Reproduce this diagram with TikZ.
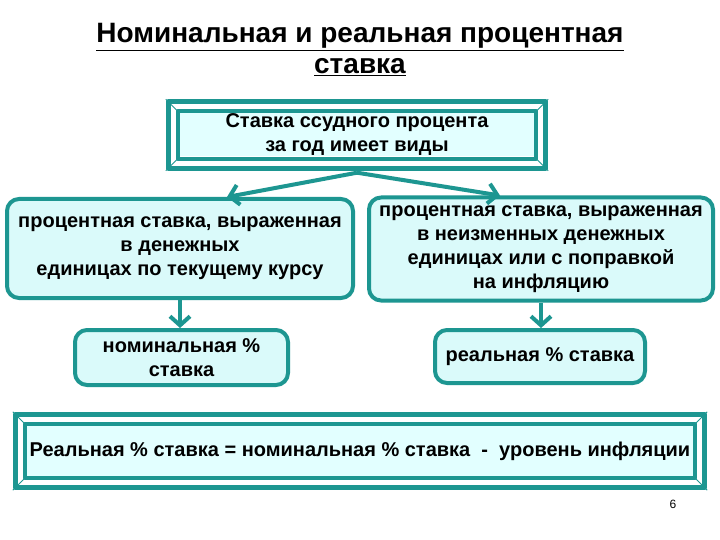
\documentclass[tikz,border=0pt]{standalone}
\usepackage{fontspec}
\setmainfont{Liberation Sans}
\usetikzlibrary{arrows.meta,backgrounds}
\definecolor{boxcolor}{RGB}{29,150,145}
\definecolor{bandcolor}{RGB}{140,220,214}
\definecolor{fillcolor}{RGB}{226,255,255}
\definecolor{roundfill}{RGB}{218,250,250}
\begin{document}
\begin{tikzpicture}[x=1pt, y=-1pt, font=\bfseries\fontsize{20}{24}\selectfont, line join=round, >={Straight Barb[length=9pt,width=20pt]},
	framebox/.style={fill=fillcolor, inner sep=0pt, align=center},
	roundbox/.style={draw=boxcolor, line width=4pt, rounded corners=12pt, fill=roundfill, inner sep=0pt, align=center},
	link/.style={->, draw=boxcolor, line width=4pt}]
			\useasboundingbox[fill=white] (0,0) rectangle (720,540);
			% title and page number
			\node[font=\bfseries\fontsize{28}{31}\selectfont, align=center] (title) at (360,50) {\underline{Номинальная и реальная процентная}\\\underline{ставка}};
			\node[font=\fontsize{12}{14}\selectfont] (page) at (673,504) {6};
			% framed boxes
			\node[framebox, minimum width=354, minimum height=43] (top) at (357,135) {Ставка ссудного процента\\за год имеет виды};
			\node[framebox, minimum width=666, minimum height=50] (formula) at (360,451) {Реальная \% ставка = номинальная \% ставка \ - \ уровень инфляции};
			\foreach \n in {top,formula} {
				\begin{scope}[on background layer]
					\fill[bandcolor] ([shift={(-14pt,14pt)}]\n.north west) rectangle ([shift={(14pt,-14pt)}]\n.south east);
				\end{scope}
				\draw[boxcolor, line width=5pt] ([shift={(-11.5pt,11.5pt)}]\n.north west) rectangle ([shift={(11.5pt,-11.5pt)}]\n.south east);
				\draw[boxcolor, line width=4pt] ([shift={(-2pt,2pt)}]\n.north west) rectangle ([shift={(2pt,-2pt)}]\n.south east);
				\draw[boxcolor, line width=1pt] ([shift={(-14pt,14pt)}]\n.north west) -- (\n.north west);
				\draw[boxcolor, line width=1pt] ([shift={(14pt,14pt)}]\n.north east) -- (\n.north east);
				\draw[boxcolor, line width=1pt] ([shift={(-14pt,-14pt)}]\n.south west) -- (\n.south west);
				\draw[boxcolor, line width=1pt] ([shift={(14pt,-14pt)}]\n.south east) -- (\n.south east);
			}
			% rounded boxes
			\node[roundbox, minimum width=346, minimum height=99] (nomtext) at (180,248.5) {процентная ставка, выраженная\\в денежных\\единицах по текущему курсу};
			\node[roundbox, minimum width=344, minimum height=103] (realtext) at (541,249) {процентная ставка, выраженная\\в неизменных денежных\\единицах или с поправкой\\на инфляцию};
			\node[roundbox, minimum width=213, minimum height=55] (nom) at (181.5,357.5) {номинальная \%\\ставка};
			\node[roundbox, minimum width=210, minimum height=53] (real) at (540,356.5) {реальная \% ставка};
			% arrows
			\coordinate (fork) at ([yshift=-16pt]top.south);
			\draw[link] (fork) -- ([xshift=47pt]nomtext.north);
			\draw[link] (fork) -- ([xshift=-41pt]realtext.north);
			\draw[link] (nomtext.south) -- (nomtext.south |- nom.north);
			\draw[link] (realtext.south) -- (realtext.south |- real.north);
	\end{tikzpicture}
\end{document}
